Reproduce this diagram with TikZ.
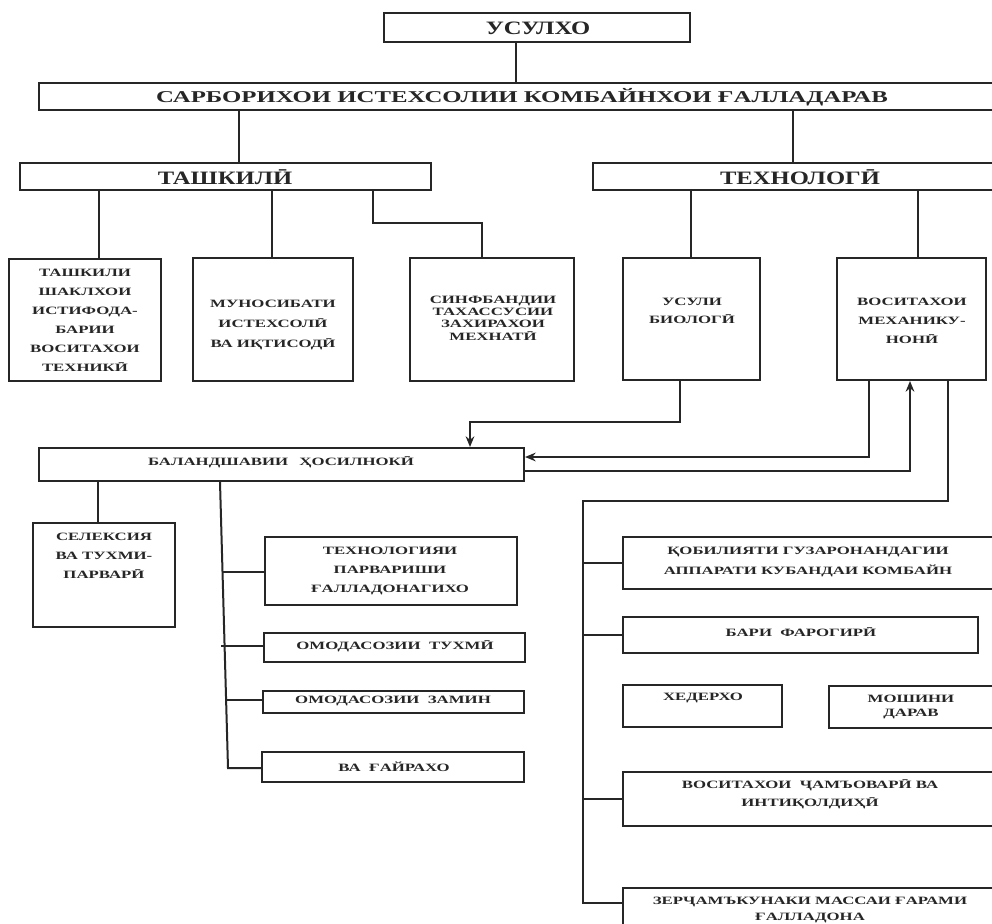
\documentclass[tikz,border=0pt]{standalone}
\usepackage{fontspec}
\newfontfamily\tjA{Liberation Serif}[FakeStretch=1.5]
\newfontfamily\tjB{Liberation Serif}[FakeStretch=1.3]
\usetikzlibrary{arrows.meta}
\tikzset{
  bx/.style={draw=black!85, line width=1.5pt, rectangle, inner sep=0pt},
  ln/.style={draw=black!85, line width=1.5pt},
  arr/.style={ln, -{Stealth[length=8pt,width=6.5pt]}},
  txt/.style={inner sep=0pt, align=center, text=black!85, font=\tjA\bfseries\fontsize{8.4}{#1}\selectfont},
  txt/.default=14.3,
  big/.style={inner sep=0pt, text=black!85, font=\tjB\bfseries\fontsize{14.2}{16}\selectfont},
  mid/.style={inner sep=0pt, text=black!85, font=\tjA\bfseries\fontsize{12.4}{14}\selectfont},
}
\newcommand\mkbox[5]{\node[bx, minimum width={(#4-#2)*0.75pt}, minimum height={(#5-#3)*0.75pt}] (#1) at ({(#2+#4)/2},{(#3+#5)/2}) {};}
\begin{document}
\begin{tikzpicture}[x=0.75pt,y=-0.75pt]
\useasboundingbox (0,0) rectangle (992,924);
\path[fill=white] (0,0) rectangle (992,924);
% boxes
\mkbox{usul}{384}{13}{690}{42}
\mkbox{sarb}{39}{83}{1000}{110}
\mkbox{tash}{20}{163}{431}{190}
\mkbox{tech}{593}{163}{1000}{190}
\mkbox{b1}{9}{259}{161}{381}
\mkbox{b2}{193}{258}{353}{381}
\mkbox{b3}{410}{258}{574}{381}
\mkbox{b4}{623}{258}{760}{380}
\mkbox{b5}{837}{258}{986}{380}
\mkbox{bal}{39}{448}{524}{481}
\mkbox{sel}{33}{523}{175}{627}
\mkbox{tp}{265}{537}{517}{605}
\mkbox{ot}{264}{633}{525}{662}
\mkbox{oz}{263}{691}{524}{713}
\mkbox{vg}{262}{752}{524}{782}
\mkbox{qb}{623}{537}{1000}{589}
\mkbox{bf}{623}{617}{978}{653}
\mkbox{hd}{623}{685}{782}{727}
\mkbox{md}{829}{686}{1000}{728}
\mkbox{vj}{623}{772}{1000}{826}
\mkbox{zr}{623}{888}{1000}{940}
% texts
\node[big] (usul-t) at (538,28) {УСУЛХО};
\node[mid] (sarb-t) at (522,97) {САРБОРИХОИ ИСТЕХСОЛИИ КОМБАЙНХОИ ҒАЛЛАДАРАВ};
\node[big] (tash-t) at (225,177) {ТАШКИЛӢ};
\node[big] (tech-t) at (800,177) {ТЕХНОЛОГӢ};
\node[txt] (b1-t) at (85,320) {ТАШКИЛИ\\ШАКЛХОИ\\ИСТИФОДА-\\БАРИИ\\ВОСИТАХОИ\\ТЕХНИКӢ};
\node[txt=15] (b2-t) at (273,325) {МУНОСИБАТИ\\ИСТЕХСОЛӢ\\ВА ИҚТИСОДӢ};
\node[txt=9.2] (b3-t) at (493,318) {СИНФБАНДИИ\\ТАХАССУСИИ\\ЗАХИРАХОИ\\МЕХНАТӢ};
\node[txt=13.5] (b4-t) at (692,311) {УСУЛИ\\БИОЛОГӢ};
\node[txt] (b5-t) at (912,321) {ВОСИТАХОИ\\МЕХАНИКУ-\\НОНӢ};
\node[txt] (bal-t) at (281,462) {БАЛАНДШАВИИ\quad ҲОСИЛНОКӢ};
\node[txt] (sel-t) at (104,556) {СЕЛЕКСИЯ\\ВА ТУХМИ-\\ПАРВАРӢ};
\node[txt] (tp-t) at (390,571) {ТЕХНОЛОГИЯИ\\ПАРВАРИШИ\\ҒАЛЛАДОНАГИХО};
\node[txt] (ot-t) at (395,646) {ОМОДАСОЗИИ\ \ ТУХМӢ};
\node[txt] (oz-t) at (393,701) {ОМОДАСОЗИИ\ \ ЗАМИН};
\node[txt] (vg-t) at (394,767) {ВА\ \ ҒАЙРАХО};
\node[txt] (qb-t) at (808,562) {ҚОБИЛИЯТИ ГУЗАРОНАНДАГИИ\\АППАРАТИ КУБАНДАИ КОМБАЙН};
\node[txt] (bf-t) at (801,632) {БАРИ\ \ ФАРОГИРӢ};
\node[txt] (hd-t) at (703,698) {ХЕДЕРХО};
\node[txt=9.8] (md-t) at (911,707) {МОШИНИ\\ДАРАВ};
\node[txt=13.5] (vj-t) at (810,794) {ВОСИТАХОИ\ \ ҶАМЪОВАРӢ ВА\\ИНТИҚОЛДИҲӢ};
\node[txt=11.3] (zr-t) at (810,910) {ЗЕРҶАМЪКУНАКИ МАССАИ ҒАРАМИ\\ҒАЛЛАДОНА};
% helper coordinates
\coordinate (c1) at (516,0);
\coordinate (c2) at (239,0);
\coordinate (c3) at (793,0);
\coordinate (c4) at (99,0);
\coordinate (c5) at (272,0);
\coordinate (c6) at (691,0);
\coordinate (c7) at (918,0);
\coordinate (k1) at (373,223);
\coordinate (k2) at (482,223);
\coordinate (k3) at (680,422);
\coordinate (k4) at (470,422);
\coordinate (k5) at (869,457);
\coordinate (k6) at (910,471);
\coordinate (k7) at (948,501);
\coordinate (k8) at (583,501);
\coordinate (k9) at (583,903);
\coordinate (m0) at (98,0);
\coordinate (m1) at (220,0);
\coordinate (m2) at (228,768);
\coordinate (p1) at (222.5,572);
\coordinate (p2) at (221,646);
\coordinate (p3) at (226,700);
% connectors
\draw[ln] (usul.south -| c1) -- (sarb.north -| c1);
\draw[ln] (sarb.south -| c2) -- (tash.north -| c2);
\draw[ln] (sarb.south -| c3) -- (tech.north -| c3);
\draw[ln] (tash.south -| c4) -- (b1.north -| c4);
\draw[ln] (tash.south -| c5) -- (b2.north -| c5);
\draw[ln] (tash.south -| k1) -- (k1) -- (k2) -- (b3.north -| k2);
\draw[ln] (tech.south -| c6) -- (b4.north -| c6);
\draw[ln] (tech.south -| c7) -- (b5.north -| c7);
\draw[arr] (b4.south -| k3) -- (k3) -- (k4) -- (bal.north -| k4);
\draw[arr] (b5.south -| k5) -- (k5) -- (bal.east |- k5);
\draw[arr] (bal.east |- k6) -- (k6) -- (b5.south -| k6);
\draw[ln] (b5.south -| k7) -- (k7) -- (k8) -- (k9) -- (zr.west |- k9);
\draw[ln] (qb.west -| k8) -- (qb.west);
\draw[ln] (bf.west -| k8) -- (bf.west);
\draw[ln] (vj.west -| k8) -- (vj.west);
\draw[ln] (bal.south -| m0) -- (sel.north -| m0);
\draw[ln] (bal.south -| m1) -- (m2) -- (vg.west |- m2);
\draw[ln] (p1) -- (tp.west |- p1);
\draw[ln] (p2) -- (ot.west |- p2);
\draw[ln] (p3) -- (oz.west |- p3);
\end{tikzpicture}
\end{document}
